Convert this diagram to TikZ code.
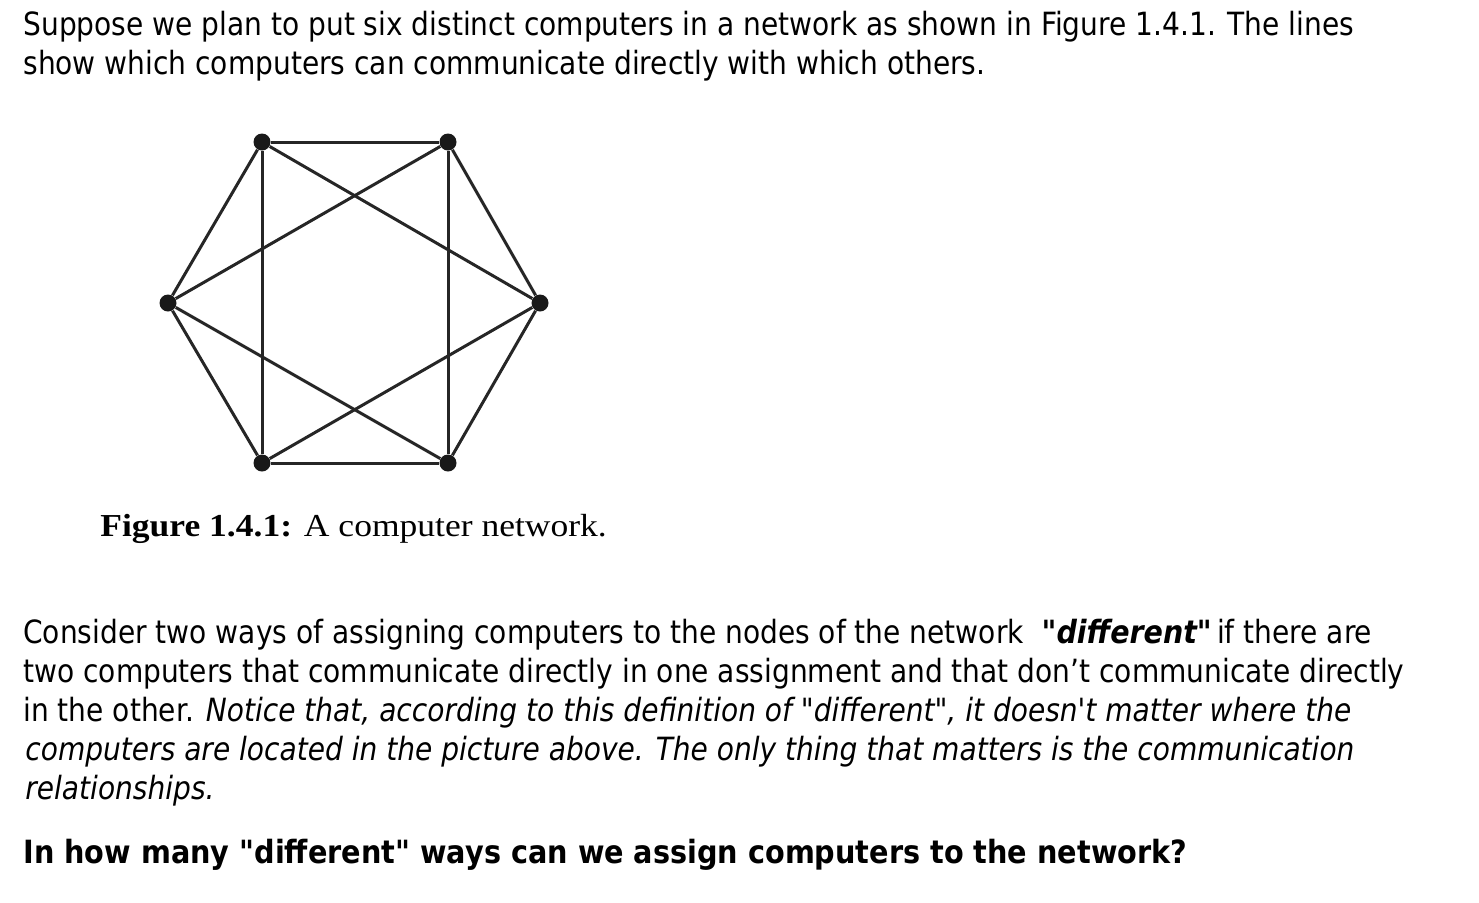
\documentclass[tikz,border=0pt]{standalone}
\usepackage{fontspec}
\newfontfamily\bodyfont{DejaVu Sans}[FakeStretch=0.877, BoldFeatures={FakeStretch=0.897}, BoldItalicFeatures={FakeStretch=0.89}]
\newfontfamily\capfont{Liberation Serif}[FakeStretch=1.11]

\begin{document}
\begin{tikzpicture}[
  x=0.5pt, y=-0.5pt,
  txt/.style={anchor=base west, inner sep=0pt, font=\bodyfont\fontsize{16}{19}\selectfont},
  captxt/.style={anchor=base west, inner sep=0pt, font=\capfont\fontsize{16}{19}\selectfont},
  pc/.style={circle, fill=black!90, inner sep=0pt, minimum size=8.5pt},
  link/.style={line width=1.5pt, black!85}
]
\useasboundingbox (0,0) rectangle (1479,902);

\node[txt] (s1) at (23,35) {Suppose we plan to put six distinct computers in a network as shown in Figure 1.4.1. The lines};
\node[txt] (s2) at (23,74) {show which computers can communicate directly with which others.};

\node[pc] (c1) at (262,142) {};
\node[pc] (c2) at (448,142) {};
\node[pc] (c3) at (540,303) {};
\node[pc] (c4) at (448,463) {};
\node[pc] (c5) at (262,463) {};
\node[pc] (c6) at (168,303) {};

\draw[link] (c1) -- (c2);
\draw[link] (c2) -- (c3);
\draw[link] (c3) -- (c4);
\draw[link] (c4) -- (c5);
\draw[link] (c5) -- (c6);
\draw[link] (c6) -- (c1);
\draw[link] (c1) -- (c5);
\draw[link] (c2) -- (c4);
\draw[link] (c1) -- (c3);
\draw[link] (c2) -- (c6);
\draw[link] (c6) -- (c4);
\draw[link] (c3) -- (c5);

\node[captxt] (fig) at (100,536) {\textbf{Figure 1.4.1:} A computer network.};

\node[txt] (d1) at (23,643) {Consider two ways of assigning computers to the nodes of the network\ \ \textbf{\textit{"different"}}\,if there are};
\node[txt] (d2) at (23,682) {two computers that communicate directly in one assignment and that don’t communicate directly};
\node[txt] (d3) at (23,721) {in the other. \textit{Notice that, according to this definition of "different", it doesn't matter where the}};
\node[txt] (d4) at (25,760) {\textit{computers are located in the picture above. The only thing that matters is the communication}};
\node[txt] (d5) at (25,799) {\textit{relationships.}};

\node[txt] (q) at (23,863) {\textbf{In how many "different" ways can we assign computers to the network?}};
\end{tikzpicture}
\end{document}
